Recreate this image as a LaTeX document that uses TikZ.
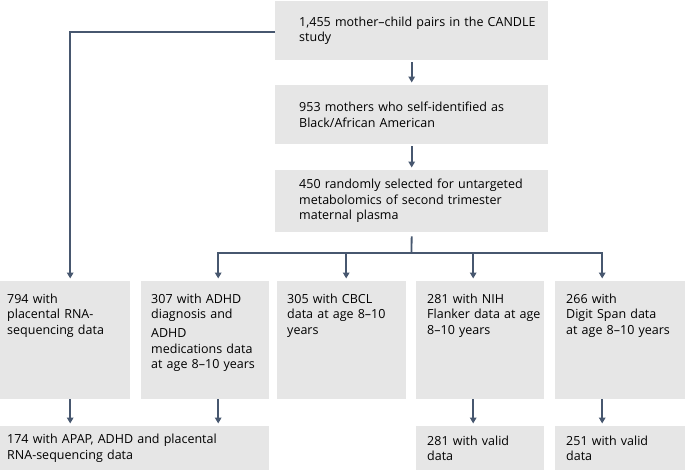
\documentclass[tikz,border=0pt]{standalone}
\usepackage{fontspec}
\setmainfont{Open Sans}
\usetikzlibrary{arrows.meta}
\definecolor{boxgray}{HTML}{E6E6E6}
\definecolor{flowline}{HTML}{47576F}

\begin{document}
\begin{tikzpicture}[x=1pt,y=-1pt,
  box/.style={fill=boxgray, inner sep=0pt, anchor=north west, align=left,
    font=\fontsize{12.5}{15.5}\selectfont},
  inset/.style={execute at begin node={\leftskip=#1\relax}},
  stepbox/.style={box, inset=24pt, text width=273pt, minimum height=#1},
  colbox/.style={box, text width=#1, text height=22pt, text depth=96pt},
  endbox/.style={box, text width=#1, minimum height=44pt},
  link/.style={draw=flowline, line width=1.8pt},
  flow/.style={link, -{Triangle[width=6.5pt,length=6pt]}, shorten >=2.5pt}]
  \useasboundingbox (0,0) rectangle (685,472);

  \node[stepbox=59pt] (study) at (275,1) {1,455 mother–child pairs in the CANDLE\\study};
  \node[stepbox=59pt] (black) at (275,85) {953 mothers who self-identified as\\Black/African American};
  \node[stepbox=62pt] (random) at (275,170) {450 randomly selected for untargeted\\metabolomics of second trimester\\maternal plasma};

  \node[colbox=130pt, inset=7pt] (rna) at (0,281) {794 with\\placental RNA-\\sequencing data};
  \node[colbox=128pt, inset=10pt] (adhd) at (141,281) {307 with ADHD\\diagnosis and\\[3.5pt]ADHD\\medications data\\at age 8–10 years};
  \node[colbox=129pt, inset=10pt] (cbcl) at (277,281) {305 with CBCL\\data at age 8–10\\years};
  \node[colbox=128pt, inset=11pt] (flanker) at (416,281) {281 with NIH\\Flanker data at age\\8–10 years};
  \node[colbox=130pt, inset=11pt] (digit) at (555,281) {266 with\\Digit Span data\\at age 8–10 years};

  \node[endbox=269pt, inset=7pt] (combined) at (0,426) {174 with APAP, ADHD and placental\\RNA-sequencing data};
  \node[endbox=128pt, inset=11pt] (flankok) at (416,426) {281 with valid\\data};
  \node[endbox=130pt, inset=11pt] (digitok) at (555,426) {251 with valid\\data};

  \draw[flow, shorten <=2pt] (study) -- (black);
  \draw[flow, shorten <=2pt] (black) -- (random);
  \draw[flow] ([yshift=-1.5pt]study.west) -| ([xshift=5pt]rna.north);

  \coordinate (split) at (411.5,253);
  \draw[link, shorten <=4pt] (random.south) -- (split);
  \draw[flow] (split) -| ([xshift=13pt]adhd.north);
  \draw[flow] (split) -| ([xshift=4.5pt]cbcl.north);
  \draw[flow] (split) -| ([xshift=-7pt]flanker.north);
  \draw[flow] (split) -| ([xshift=-18pt]digit.north);

  \coordinate (rnaout) at ([xshift=5pt]rna.south);
  \coordinate (adhdout) at ([xshift=13pt]adhd.south);
  \coordinate (flankout) at ([xshift=-7pt]flanker.south);
  \coordinate (digitout) at ([xshift=-18pt]digit.south);
  \draw[flow] (rnaout) -- (rnaout |- combined.north);
  \draw[flow] (adhdout) -- (adhdout |- combined.north);
  \draw[flow] (flankout) -- (flankout |- flankok.north);
  \draw[flow] (digitout) -- (digitout |- digitok.north);
\end{tikzpicture}
\end{document}
